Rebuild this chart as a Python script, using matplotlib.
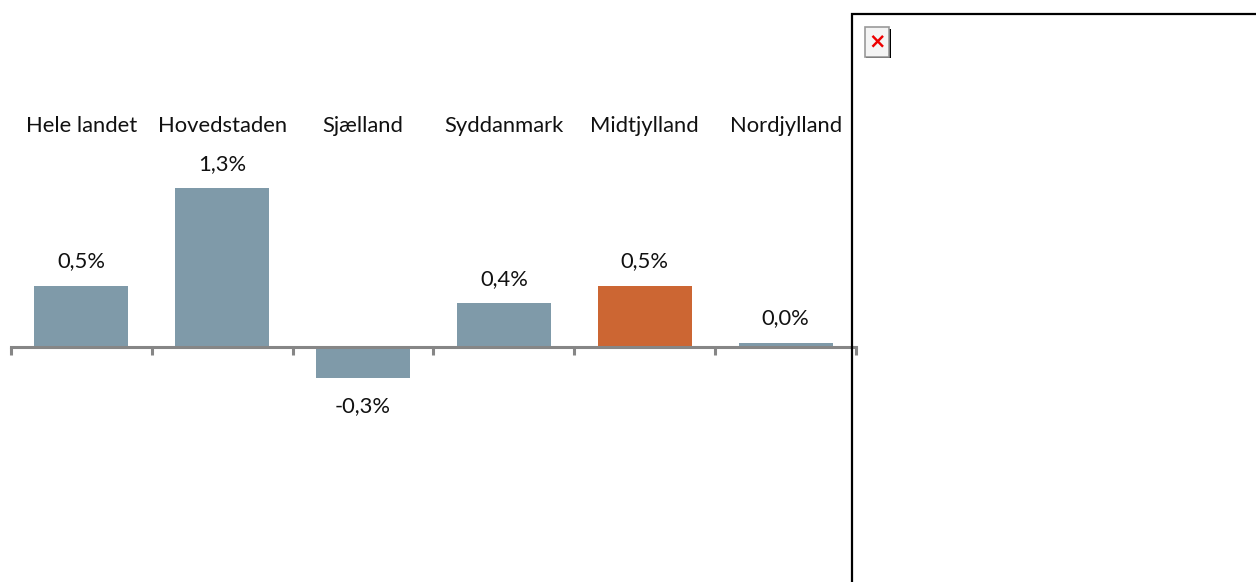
import matplotlib
matplotlib.use("Agg")
import matplotlib.pyplot as plt
from matplotlib.patches import Rectangle

W, H = 1256, 582

regions = ["Hele landet", "Hovedstaden", "Sjælland", "Syddanmark", "Midtjylland", "Nordjylland"]
values = [0.5, 1.3, -0.255, 0.355, 0.5, 0.03]
labels = ["0,5%", "1,3%", "-0,3%", "0,4%", "0,5%", "0,0%"]
bar_colors = ["#7f9aa9", "#7f9aa9", "#7f9aa9", "#7f9aa9", "#cc6633", "#7f9aa9"]

plt.rcParams["font.family"] = ["Lato", "DejaVu Sans"]

fig = plt.figure(figsize=(W / 100, H / 100), dpi=100)
ax = fig.add_axes([11 / W, 0, 845 / W, 1])

x = list(range(len(regions)))
ax.bar(x, values, width=0.667, color=bar_colors, zorder=2)

ax.set_xlim(-0.5, 5.5)
ax.set_ylim(-235.5 / 122, 346.5 / 122)

# axis line through zero, ticks between the categories
for s in ["top", "left", "right"]:
    ax.spines[s].set_visible(False)
ax.spines["bottom"].set_position(("data", 0))
ax.spines["bottom"].set_color("#868686")
ax.spines["bottom"].set_linewidth(2.2)
ax.spines["bottom"].set_zorder(3)
ax.set_yticks([])
ax.set_xticks([i - 0.5 for i in range(len(regions) + 1)])
ax.set_xticklabels([])
ax.tick_params(axis="x", length=6, width=2.2, color="#868686", direction="out")

for i in x:
    ax.text(i, 1 - 126 / H, regions[i], transform=ax.get_xaxis_transform(),
            ha="center", va="center", fontsize=15.8, color="#111111")
    off = 17.5 if values[i] >= 0 else -20.5
    ax.annotate(labels[i], (i, values[i]), xytext=(0, off), textcoords="offset points",
                ha="center", va="center", fontsize=15.8, color="#111111")

# broken picture placeholder on the right
fig.add_artist(Rectangle((852 / W, -0.01), 430 / W, 1 - 14 / H + 0.01, transform=fig.transFigure,
                         fill=False, edgecolor="black", linewidth=1.6))
fig.add_artist(Rectangle((866 / W, 1 - 58 / H), 25 / W, 29 / H, transform=fig.transFigure,
                         facecolor="black", edgecolor="none"))
fig.add_artist(Rectangle((864.5 / W, 1 - 56.5 / H), 24.5 / W, 29 / H, transform=fig.transFigure,
                         facecolor="#f4f4f4", edgecolor="#999999", linewidth=1.2))
fig.text(877 / W, 1 - 41 / H, "×", color="#ee0000", fontsize=15, fontweight="bold",
         ha="center", va="center", family="DejaVu Sans")

fig.savefig("out.png", dpi=100)
